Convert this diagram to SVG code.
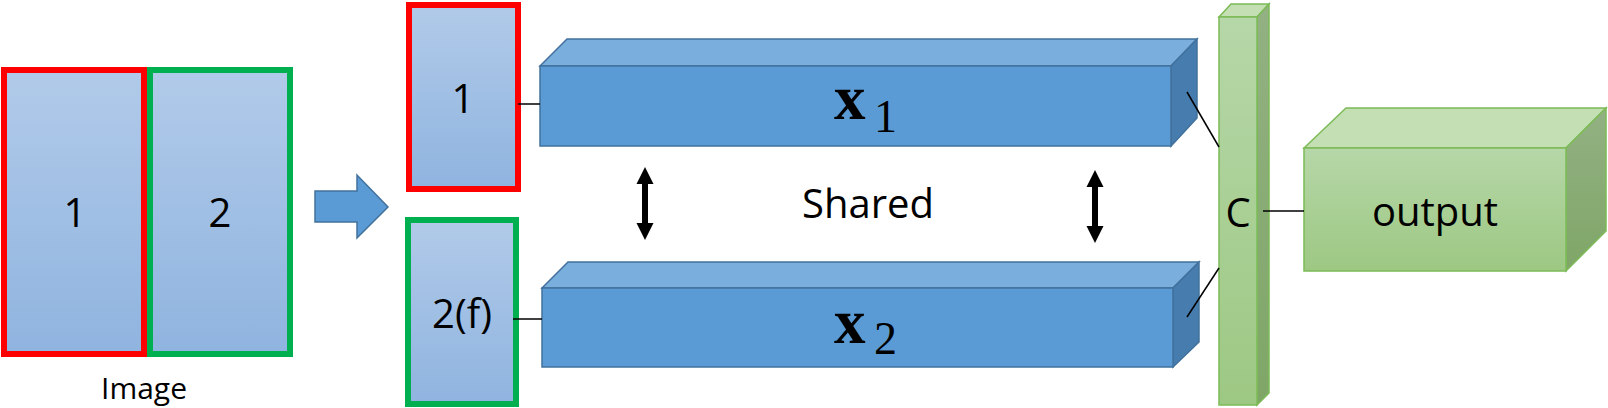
<svg xmlns="http://www.w3.org/2000/svg" width="1608" height="408" viewBox="0 0 1608 408">
<defs>
<linearGradient id="gImg" x1="0" y1="0" x2="0" y2="1"><stop offset="0" stop-color="#b1cae9"/><stop offset="1" stop-color="#8fb4df"/></linearGradient>
<linearGradient id="gGreenF" x1="0" y1="0" x2="0" y2="1"><stop offset="0" stop-color="#b6d7a8"/><stop offset="1" stop-color="#9dc883"/></linearGradient>
<linearGradient id="gGreenR" x1="0" y1="0" x2="0" y2="1"><stop offset="0" stop-color="#93b183"/><stop offset="1" stop-color="#7fa667"/></linearGradient>
<style>
.t{font-family:"Open Sans","Noto Sans",sans-serif;font-size:40px;fill:#000;text-anchor:middle}
.m{font-family:"Liberation Serif","DejaVu Serif",serif;fill:#000}
.bf{fill:#5b9bd5;stroke:#41719c;stroke-width:1.5}
.bt{fill:#7aaedd;stroke:#41719c;stroke-width:1.5}
.br{fill:#467cae;stroke:#41719c;stroke-width:1.5}
.gf{fill:url(#gGreenF);stroke:#7cbb57;stroke-width:1.5}
.gt{fill:#c4dfb3;stroke:#7cbb57;stroke-width:1.5}
.gr{fill:url(#gGreenR);stroke:#7cbb57;stroke-width:1.5}
.ln{stroke:#000;stroke-width:1.5;fill:none}
</style>
</defs>
<g id="image">
<rect x="150" y="70" width="140" height="284" fill="url(#gImg)" stroke="#00b050" stroke-width="6"/>
<rect x="4" y="70" width="140" height="284" fill="url(#gImg)" stroke="#ff0000" stroke-width="6"/>
<text class="t" x="75" y="227">1</text>
<text class="t" x="220" y="227">2</text>
<text class="t" x="144" y="399" style="font-size:30px">Image</text>
</g>
<g id="bigarrow">
<polygon points="315,191 357,191 357,175 388,207 357,238 357,222 315,222" fill="#5b9bd5" stroke="#41719c" stroke-width="1.5"/>
</g>
<g id="patch1">
<rect x="409" y="5" width="109" height="184" fill="url(#gImg)" stroke="#ff0000" stroke-width="6"/>
<text class="t" x="463" y="113">1</text>
</g>
<g id="patch2">
<rect x="408" y="220" width="108" height="184" fill="url(#gImg)" stroke="#00b050" stroke-width="6"/>
<text class="t" x="462" y="328">2(f)</text>
</g>
<g id="bar1">
<polygon class="bt" points="540,66 567,39 1197,39 1171,66"/>
<polygon class="br" points="1171,66 1197,39 1197,118 1171,146"/>
<rect class="bf" x="540" y="66" width="631" height="80"/>
<text class="m" x="834" y="119" font-size="63" font-weight="bold">x</text>
<text class="m" x="874" y="132" font-size="46">1</text>
</g>
<g id="bar2">
<polygon class="bt" points="542,288 568,262 1199,262 1173,288"/>
<polygon class="br" points="1173,288 1199,262 1199,342 1173,367"/>
<rect class="bf" x="542" y="288" width="631" height="79"/>
<text class="m" x="834" y="343" font-size="63" font-weight="bold">x</text>
<text class="m" x="874" y="354" font-size="46">2</text>
</g>
<g id="shared">
<text class="t" x="868" y="218">Shared</text>
</g>
<g id="concat">
<polygon class="gt" points="1219,17 1231,4 1269,4 1257,17"/>
<polygon class="gr" points="1257,17 1269,4 1269,393 1257,405"/>
<rect class="gf" x="1219" y="17" width="38" height="388"/>
<text class="t" x="1238" y="227">C</text>
</g>
<g id="output">
<polygon class="gt" points="1304,148 1346,108 1606,108 1566,148"/>
<polygon class="gr" points="1566,148 1606,108 1606,231 1566,271"/>
<rect class="gf" x="1304" y="148" width="262" height="123"/>
<text class="t" x="1435" y="226">output</text>
</g>
<g id="connectors">
<line class="ln" x1="518" y1="104" x2="540" y2="104"/>
<line class="ln" x1="513" y1="319" x2="542" y2="319"/>
<line class="ln" x1="1187" y1="92" x2="1219" y2="147"/>
<line class="ln" x1="1187" y1="317" x2="1219" y2="268"/>
<line class="ln" x1="1263" y1="211" x2="1304" y2="211"/>
<polygon fill="#000" points="645,167 653.5,184 648,184 648,223 653.5,223 645,240 636.5,223 642,223 642,184 636.5,184"/>
<polygon fill="#000" points="1095,170 1103.5,187 1098,187 1098,226 1103.5,226 1095,243 1086.5,226 1092,226 1092,187 1086.5,187"/>
</g>
</svg>
